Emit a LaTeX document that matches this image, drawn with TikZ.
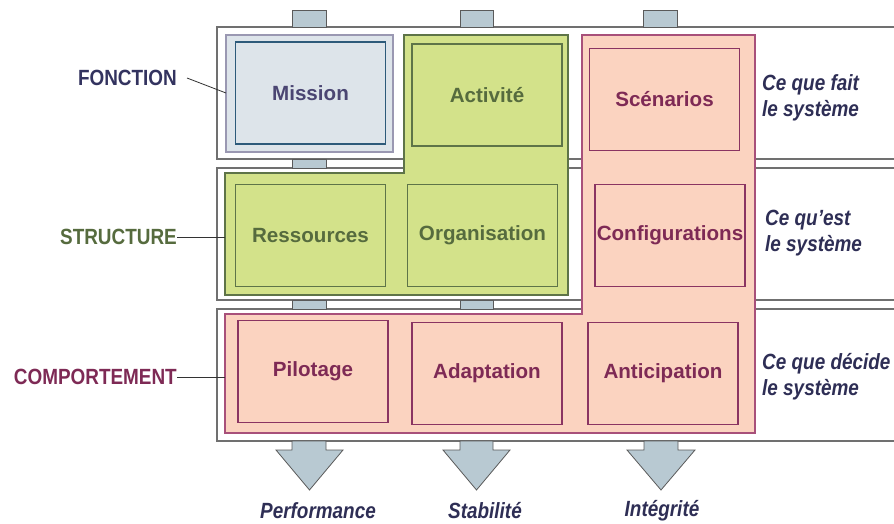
\documentclass[tikz,border=0pt]{standalone}
\usepackage{graphicx}
\usepackage{fontspec}
\setmainfont{Liberation Sans}
\newcommand\narrowtxt[1]{\scalebox{0.86}[1]{#1}}
\definecolor{rowline}{HTML}{707070}
\definecolor{stubfill}{HTML}{B8C9D2}
\definecolor{stubline}{HTML}{5A5A5A}
\definecolor{misfill}{HTML}{DDE4EA}
\definecolor{misout}{HTML}{9A98B2}
\definecolor{misin}{HTML}{2D5A7A}
\definecolor{mistext}{HTML}{4A4572}
\definecolor{grfill}{HTML}{D3E28A}
\definecolor{grline}{HTML}{5E7448}
\definecolor{grtext}{HTML}{566B3E}
\definecolor{pkfill}{HTML}{FBD3C0}
\definecolor{pkout}{HTML}{A8507A}
\definecolor{pkline}{HTML}{8A3462}
\definecolor{pktext}{HTML}{7E2A55}
\definecolor{fntext}{HTML}{33335F}
\definecolor{ittext}{HTML}{2E2E55}
\begin{document}
\begin{tikzpicture}[x=1pt,y=-1pt,
  rowbox/.style={draw=rowline,line width=1.4pt,fill=white},
  stub/.style={draw=stubline,line width=0.8pt,fill=stubfill},
  boxlabel/.style={font=\bfseries\fontsize{20.6}{24}\selectfont,inner sep=0pt,minimum width=150pt,minimum height=102pt,line width=1.2pt},
  misbox/.style={boxlabel,draw=misin,fill=misfill,text=mistext},
  grbox/.style={boxlabel,draw=grline,fill=grfill,text=grtext},
  pkbox/.style={boxlabel,draw=pkline,fill=pkfill,text=pktext},
  sidelabel/.style={font=\bfseries\fontsize{22}{26}\selectfont,inner sep=0pt},
  italabel/.style={font=\bfseries\itshape\fontsize{22}{26.5}\selectfont,text=ittext,inner sep=0pt},
  leader/.style={draw=black!80,line width=0.8pt}
]
\useasboundingbox (0,0) rectangle (894,524);
\clip (0,0) rectangle (894,524);
% layer rows
\draw[rowbox] (217,27) rectangle (910,159);
\draw[rowbox] (217,168) rectangle (910,300);
\draw[rowbox] (217,309) rectangle (910,441);
% stubs
\draw[stub] (292,10) rectangle (326,27);
\draw[stub] (460,10) rectangle (493,27);
\draw[stub] (643,10) rectangle (677,27);
\draw[stub] (292,159) rectangle (326,168);
\draw[stub] (292,300) rectangle (326,309);
\draw[stub] (460,300) rectangle (493,309);
% bottom arrows
\draw[stub,line join=miter] (292,441) -- (326,441) -- (326,450) -- (343,450) -- (309.5,490) -- (276,450) -- (292,450) -- cycle;
\draw[stub,line join=miter] (460,441) -- (493,441) -- (493,450) -- (510,450) -- (476.5,490) -- (443,450) -- (460,450) -- cycle;
\draw[stub,line join=miter] (644,441) -- (678,441) -- (678,450) -- (695,450) -- (661,490) -- (627,450) -- (644,450) -- cycle;
% mission frame
\draw[draw=misout,fill=misfill,line width=1.2pt] (226,35) rectangle (393,152);
\coordinate (misleft) at (226,93);
% green L shape
\draw[draw=grline,fill=grfill,line width=1.2pt] (404,35) -- (568,35) -- (568,295) -- (225,295) -- (225,173) -- (404,173) -- cycle;
\coordinate (grleft) at (225,237);
% pink L shape
\draw[draw=pkout,fill=pkfill,line width=1.2pt] (582,35) -- (755,35) -- (755,433) -- (225,433) -- (225,314) -- (582,314) -- cycle;
\coordinate (pkleft) at (225,377);
% boxes
\node[misbox] (mission) at (310.5,93) {Mission};
\node[grbox] (activite) at (487,95) {Activité};
\node[grbox] (ressources) at (310.5,235.5) {Ressources};
\node[grbox] (organisation) at (482.5,235.5) {Organisation};
\node[pkbox] (scenarios) at (664.5,99.5) {Scénarios};
\node[pkbox] (configurations) at (670,235.5) {Configurations};
\node[pkbox] (pilotage) at (313,371.5) {Pilotage};
\node[pkbox] (adaptation) at (487,373.5) {Adaptation};
\node[pkbox] (anticipation) at (663,373.5) {Anticipation};
% left labels
\node[sidelabel,text=fntext,anchor=east] (fonction) at (177,78) {\narrowtxt{FONCTION}};
\node[sidelabel,text=grtext,anchor=east] (structure) at (177,237) {\narrowtxt{STRUCTURE}};
\node[sidelabel,text=pktext,anchor=east] (comportement) at (177,377) {\narrowtxt{COMPORTEMENT}};
\coordinate (fonctionend) at (187,78);
\draw[leader] (fonctionend) -- (misleft);
\draw[leader] (structure.east) -- (grleft);
\draw[leader] (comportement.east) -- (pkleft);
% right labels
\node[italabel,anchor=west] (fait) at (762,98) {\narrowtxt{\begin{tabular}{@{}l@{}}Ce que fait\\le système\end{tabular}}};
\node[italabel,anchor=west] (est) at (765,233) {\narrowtxt{\begin{tabular}{@{}l@{}}Ce qu’est\\le système\end{tabular}}};
\node[italabel,anchor=west] (decide) at (762,377) {\narrowtxt{\begin{tabular}{@{}l@{}}Ce que décide\\le système\end{tabular}}};
% bottom labels
\node[italabel] (performance) at (318,511) {\narrowtxt{Performance}};
\node[italabel] (stabilite) at (485,511) {\narrowtxt{Stabilité}};
\node[italabel] (integrite) at (662,511) {\narrowtxt{Intégrité}};
\end{tikzpicture}
\end{document}
